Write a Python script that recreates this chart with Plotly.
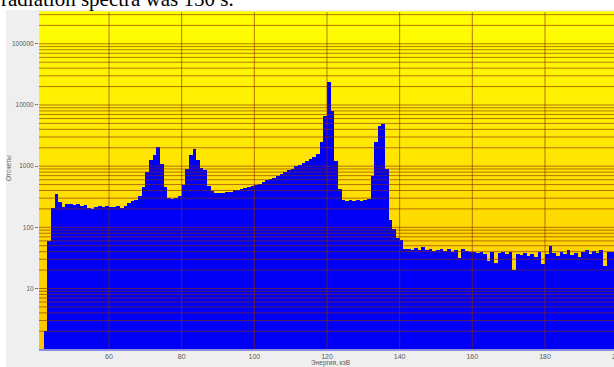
import plotly.graph_objects as go

# ---------------- data ----------------
first_bin_kev = 42          # lower edge of first 1-keV bin
counts = [
    # 42-49
    2, 60, 205, 350, 260, 215, 240, 245,
    # 50-59
    235, 240, 225, 232, 210, 200, 212, 220, 215, 222,
    # 60-69
    218, 215, 222, 210, 225, 250, 272, 285, 330, 450,
    # 70-79
    800, 1250, 1500, 2050, 1100, 450, 300, 290, 300, 330,
    # 80-89
    500, 900, 1500, 1900, 1250, 950, 850, 480, 390, 370,
    # 90-99
    365, 360, 372, 385, 405, 415, 425, 445, 460, 475,
    # 100-109
    495, 515, 545, 585, 615, 650, 690, 750, 800, 850,
    # 110-119
    910, 990, 1060, 1130, 1210, 1310, 1390, 1600, 2500, 6500,
    # 120-129
    24000, 8000, 1200, 420, 280, 270, 275, 265, 280, 270,
    # 130-139
    285, 290, 700, 2500, 4500, 4800, 900, 130, 95, 68,
    # 140-149
    62, 45, 44, 42, 46, 43, 47, 42, 44, 41,
    # 150-159
    43, 45, 41, 44, 40, 42, 31, 44, 41, 39,
    # 160-169
    40, 38, 39, 37, 28, 40, 26, 38, 40, 36,
    # 170-179
    39, 20, 37, 35, 38, 34, 36, 33, 40, 25,
    # 180-189
    37, 50, 38, 34, 40, 36, 42, 35, 38, 33,
    # 190-199
    40, 42, 37, 41, 38, 43, 23, 40, 39, 41,
]
energy_kev = [first_bin_kev + 0.5 + i for i in range(len(counts))]

x_tick_vals = [60, 80, 100, 120, 140, 160, 180]
x_tick_text = ["60", "80", "100", "120", "140", "160", "180"]
x_grid_vals = [60, 80, 100, 120, 140, 160, 180]
y_tick_vals = [10, 100, 1000, 10000, 100000]
y_tick_text = ["10", "100", "1000", "10000", "100000"]
y_grid_mult = [1, 2, 3, 4, 5, 6, 7, 8, 9]
y_grid_decades = [1, 10, 100, 1000, 10000, 100000]

x_title = "Энергия, кэВ"
y_title = "Отсчеты"
top_text = "radiation spectra was 150 s."

# ---------------- layout geometry ----------------
W, H = 614, 367
ML, MR, MT, MB = 39, 0, 12, 18
X_RANGE = [40.73, 199.0]
Y_RANGE_LOG = [0.011, 5.52]
plot_h = H - MT - MB
plot_w = W - ML - MR


def px_to_paper_x(px):
    return (px - ML) / plot_w


def py_to_paper_y(py):
    return (H - MB - py) / plot_h


fig = go.Figure()
fig.add_trace(go.Bar(
    x=energy_kev, y=counts, width=1.0,
    marker=dict(color="#0000F8", line=dict(width=0)),
    hoverinfo="x+y",
))

shapes = []
# grey chart panel
shapes.append(dict(type="rect", xref="paper", yref="paper",
                   x0=px_to_paper_x(6), x1=px_to_paper_x(W + 2),
                   y0=py_to_paper_y(H + 2), y1=py_to_paper_y(10),
                   fillcolor="#EFEFEF", line=dict(width=0), layer="below"))
# vertical yellow -> orange gradient in plot area
N = 60
top_rgb = (255, 255, 0)
bot_rgb = (255, 196, 0)
for i in range(N):
    t = (i + 0.5) / N  # 0 bottom .. 1 top
    r = round(bot_rgb[0] + (top_rgb[0] - bot_rgb[0]) * t)
    g = round(bot_rgb[1] + (top_rgb[1] - bot_rgb[1]) * t)
    b = round(bot_rgb[2] + (top_rgb[2] - bot_rgb[2]) * t)
    shapes.append(dict(type="rect", xref="paper", yref="paper",
                       x0=0, x1=1, y0=i / N, y1=(i + 1) / N + 0.002,
                       fillcolor=f"rgb({r},{g},{b})", line=dict(width=0),
                       layer="below"))

grid_col = "rgba(135,45,0,0.62)"
# horizontal (log) grid lines drawn above the bars
for d in y_grid_decades:
    for m in y_grid_mult:
        v = m * d
        shapes.append(dict(type="line", xref="paper", yref="y",
                           x0=0, x1=1, y0=v, y1=v,
                           line=dict(color=grid_col, width=1), layer="above"))
for xv in x_grid_vals:
    shapes.append(dict(type="line", xref="x", yref="paper",
                       x0=xv, x1=xv, y0=0, y1=1,
                       line=dict(color=grid_col, width=1), layer="above"))

tick_font = dict(family="Liberation Sans, Arial, sans-serif", size=7, color="#5a5a5a")

annotations = [
    dict(text="200", xref="paper", yref="paper",
         x=px_to_paper_x(617.7), y=py_to_paper_y(351), xanchor="center", yanchor="top",
         showarrow=False, font=tick_font),
    dict(text=x_title, xref="paper", yref="paper",
         x=px_to_paper_x(330), y=py_to_paper_y(363), xanchor="center", yanchor="middle",
         showarrow=False, font=dict(family="Liberation Sans, Arial, sans-serif", size=6.5, color="#5a5a5a")),
    dict(text=y_title, xref="paper", yref="paper", textangle=-90,
         x=px_to_paper_x(8), y=py_to_paper_y(168), xanchor="center", yanchor="middle",
         showarrow=False, font=dict(family="Liberation Sans, Arial, sans-serif", size=6.5, color="#5a5a5a")),
    dict(text=top_text, xref="paper", yref="paper",
         x=px_to_paper_x(0), y=py_to_paper_y(12), xanchor="left", yanchor="bottom",
         showarrow=False, borderpad=0,
         font=dict(family="Liberation Serif, Times New Roman, serif", size=21, color="#000000")),
]

fig.update_layout(
    width=W, height=H,
    margin=dict(l=ML, r=MR, t=MT, b=MB, pad=0),
    paper_bgcolor="#FFFFFF",
    plot_bgcolor="#FFE000",
    bargap=0,
    showlegend=False,
    shapes=shapes,
    annotations=annotations,
    xaxis=dict(range=X_RANGE, showgrid=False, zeroline=False,
               tickmode="array", tickvals=x_tick_vals, ticktext=x_tick_text,
               ticks="", tickfont=tick_font,
               showline=True, linecolor="#8C8CE0", linewidth=2),
    yaxis=dict(type="log", range=Y_RANGE_LOG, showgrid=False, zeroline=False,
               tickmode="array", tickvals=y_tick_vals, ticktext=y_tick_text,
               ticks="outside", ticklen=3, tickcolor="#7a7a7a", tickwidth=1,
               tickfont=dict(family="Liberation Sans, Arial, sans-serif", size=6.5, color="#5a5a5a"),
               showline=False),
)

fig.write_html("out.html")
